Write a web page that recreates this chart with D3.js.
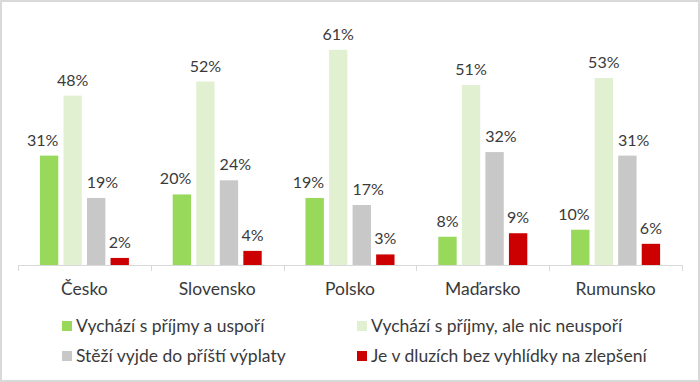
<!DOCTYPE html>
<html>
<head>
<meta charset="utf-8">
<script src="https://cdn.jsdelivr.net/npm/d3@7"></script>
<style>
  html, body { margin: 0; padding: 0; background: #fff; }
  svg { display: block; }
  text { font-family: Lato, "Open Sans", sans-serif; fill: #3a3a3a; }
</style>
</head>
<body>
<svg id="chart" width="700" height="382"></svg>
<script>
const categories = ["Česko", "Slovensko", "Polsko", "Maďarsko", "Rumunsko"];
const seriesNames = [
  "Vychází s příjmy a uspoří",
  "Vychází s příjmy, ale nic neuspoří",
  "Stěží vyjde do příští výplaty",
  "Je v dluzích bez vyhlídky na zlepšení"
];
const savesValues   = [31, 20, 19, 8, 10];
const getsByValues  = [48, 52, 61, 51, 53];
const barelyValues  = [19, 24, 17, 32, 31];
const debtValues    = [2, 4, 3, 9, 6];
const seriesColors  = ["#98D85B", "#E2F0D2", "#C8C8C8", "#CC0000"];

const seriesValues = [savesValues, getsByValues, barelyValues, debtValues];

const W = 700, H = 382;
const svg = d3.select("#chart");

// outer frame
svg.append("rect").attr("x", 1).attr("y", 1).attr("width", W - 2).attr("height", H - 2)
  .attr("fill", "#fff").attr("stroke", "#d9d9d9").attr("stroke-width", 2);

const plot = { left: 18, right: 682, top: 18, bottom: 265 };

const x = d3.scaleBand().domain(categories).range([plot.left, plot.right]).padding(0);
const xInner = d3.scaleBand().domain(d3.range(seriesNames.length))
  .range([0, x.bandwidth()]).paddingInner(0.22).paddingOuter(0.93);
const y = d3.scaleLinear().domain([0, 70]).range([plot.bottom, plot.top]);

// bars
const groups = svg.append("g").selectAll("g").data(categories).join("g")
  .attr("transform", d => `translate(${x(d)},0)`);

const barData = (c, ci) => seriesValues.map((vals, si) => ({ c, ci, si, v: vals[ci] }));

groups.selectAll("rect").data(c => barData(c, categories.indexOf(c))).join("rect")
  .attr("x", d => xInner(d.si))
  .attr("width", xInner.bandwidth())
  .attr("y", d => y(d.v))
  .attr("height", d => y(0) - y(d.v))
  .attr("fill", d => seriesColors[d.si]);

// axis
const axis = d3.axisBottom(x).tickSize(0).tickPadding(18);
const gx = svg.append("g").attr("transform", `translate(0,${plot.bottom})`).call(axis);
gx.select(".domain").attr("stroke", "#d9d9d9").attr("stroke-width", 1);
gx.selectAll(".tick text").style("font-size", "17.5px").attr("fill", "#3a3a3a")
  .style("font-family", "Lato, sans-serif");
// category separator ticks
const boundaries = categories.map(c => x(c)).concat([x(categories[categories.length - 1]) + x.bandwidth()]);
svg.append("g").selectAll("line").data(boundaries).join("line")
  .attr("x1", d => Math.round(d) + 0.5).attr("x2", d => Math.round(d) + 0.5)
  .attr("y1", plot.bottom).attr("y2", plot.bottom + 6)
  .attr("stroke", "#d9d9d9");

// value labels with simple collision avoidance against neighbouring bars
const gap = 5;
groups.each(function(c) {
  const ci = categories.indexOf(c);
  const g = d3.select(this);
  const bars = barData(c, ci).map(d => ({
    ...d, x0: xInner(d.si), x1: xInner(d.si) + xInner.bandwidth(), top: y(d.v)
  }));
  bars.forEach(b => {
    const t = g.append("text")
      .attr("text-anchor", "middle")
      .style("font-size", "16px")
      .attr("y", b.top - 10)
      .text(b.v + "%");
    const w = t.node().getComputedTextLength();
    let cx = (b.x0 + b.x1) / 2;
    const lblBot = b.top - 8;
    bars.forEach(o => {
      if (o === b) return;
      if (o.top > lblBot) return; // neighbour bar lower than label
      const l = cx - w / 2, r = cx + w / 2;
      if (o.si === b.si + 1 && r > o.x0 - 1) cx -= (r - (o.x0 - gap));
      if (o.si === b.si - 1 && l < o.x1 + 1) cx += ((o.x1 + gap) - l);
    });
    t.attr("x", cx);
  });
});

// legend
const legendCols = [62, 357];
const legendRows = [326, 356];
const legend = svg.append("g").selectAll("g").data(seriesNames).join("g")
  .attr("transform", (d, i) => `translate(${legendCols[i % 2]},${legendRows[Math.floor(i / 2)]})`);
legend.append("rect").attr("x", 0).attr("y", -5).attr("width", 10).attr("height", 10)
  .attr("fill", (d, i) => seriesColors[i]);
legend.append("text").attr("x", 14).attr("dy", "0.35em").style("font-size", "17.5px").text(d => d);
</script>
</body>
</html>
